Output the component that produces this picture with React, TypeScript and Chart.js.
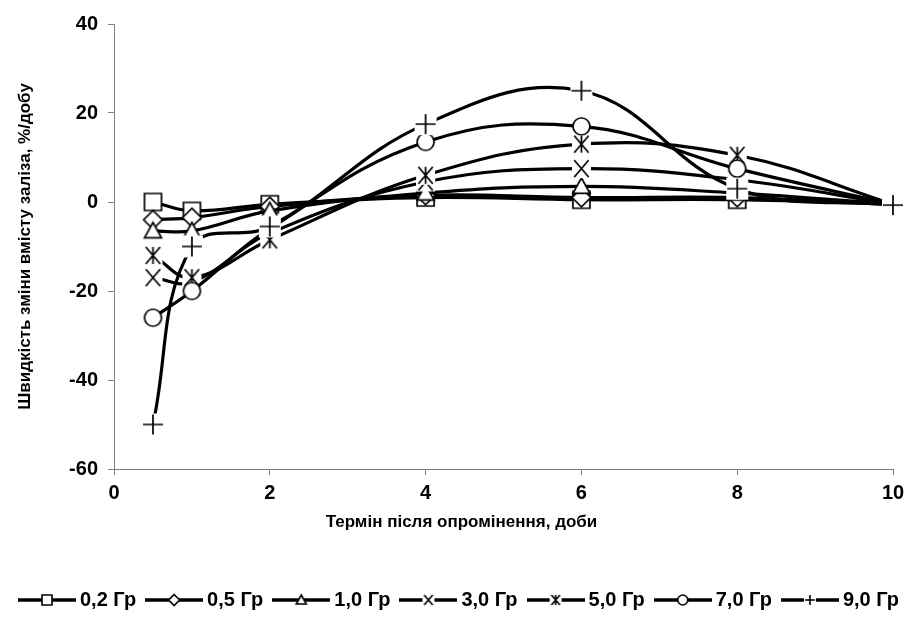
import React, { useEffect, useRef } from "react";
import { Chart, registerables } from "chart.js";

Chart.register(...registerables);

// ---- data ----
const DAYS = [0.5, 1, 2, 4, 6, 8, 10];
const SERIES_LABELS = ["0,2 Гр", "0,5 Гр", "1,0 Гр", "3,0 Гр", "5,0 Гр", "7,0 Гр", "9,0 Гр"];
const DOSE_0_2 = [0, -2, -0.5, 1, 0.5, 0.5, -0.5];
const DOSE_0_5 = [-4, -3.5, -1, 1.5, 1, 1, -0.5];
const DOSE_1_0 = [-6.5, -6.5, -2, 2, 3.5, 2, -0.5];
const DOSE_3_0 = [-17, -18, -7, 4.5, 7.5, 5, -0.5];
const DOSE_5_0 = [-12, -17, -8.5, 6, 13, 10.5, -0.5];
const DOSE_7_0 = [-26, -20, -6, 13.5, 17, 7.5, -0.5];
const DOSE_9_0 = [-50, -10, -5.5, 17.5, 25, 3, -0.7];
const SERIES_VALUES = [DOSE_0_2, DOSE_0_5, DOSE_1_0, DOSE_3_0, DOSE_5_0, DOSE_7_0, DOSE_9_0];
const MARKERS = ["square", "diamond", "triangle", "x", "star", "circle", "plus"];
const X_MIN = 0;
const X_MAX = 10;
const X_STEP = 2;
const Y_MIN = -60;
const Y_MAX = 40;
const Y_STEP = 20;
const X_TITLE = "Термін після опромінення, доби";
const Y_TITLE = "Швидкість зміни вмісту заліза, %/добу";

const FONT_FAMILY = '"Liberation Sans", Arial, sans-serif';

function drawShape(ctx: CanvasRenderingContext2D, kind: string, cx: number, cy: number, h: number) {
  ctx.fillStyle = "#fff";
  ctx.strokeStyle = "#000";
  ctx.lineCap = "butt";
  ctx.beginPath();
  switch (kind) {
    case "square":
      ctx.rect(cx - h, cy - h, 2 * h, 2 * h);
      ctx.fill();
      ctx.stroke();
      break;
    case "diamond":
      ctx.moveTo(cx, cy - h * 1.1);
      ctx.lineTo(cx + h * 1.1, cy);
      ctx.lineTo(cx, cy + h * 1.1);
      ctx.lineTo(cx - h * 1.1, cy);
      ctx.closePath();
      ctx.fill();
      ctx.stroke();
      break;
    case "triangle":
      ctx.moveTo(cx, cy - h);
      ctx.lineTo(cx + h, cy + h * 0.8);
      ctx.lineTo(cx - h, cy + h * 0.8);
      ctx.closePath();
      ctx.fill();
      ctx.stroke();
      break;
    case "circle":
      ctx.arc(cx, cy, h, 0, Math.PI * 2);
      ctx.fill();
      ctx.stroke();
      break;
    case "x":
      ctx.fillRect(cx - h - 1, cy - h - 1, 2 * h + 2, 2 * h + 2);
      ctx.moveTo(cx - h * 0.85, cy - h);
      ctx.lineTo(cx + h * 0.85, cy + h);
      ctx.moveTo(cx + h * 0.85, cy - h);
      ctx.lineTo(cx - h * 0.85, cy + h);
      ctx.stroke();
      break;
    case "star":
      ctx.fillRect(cx - h - 1, cy - h - 1, 2 * h + 2, 2 * h + 2);
      ctx.moveTo(cx - h * 0.85, cy - h);
      ctx.lineTo(cx + h * 0.85, cy + h);
      ctx.moveTo(cx + h * 0.85, cy - h);
      ctx.lineTo(cx - h * 0.85, cy + h);
      ctx.moveTo(cx, cy - h);
      ctx.lineTo(cx, cy + h);
      ctx.stroke();
      break;
    case "plus":
      ctx.fillRect(cx - h - 1, cy - h - 1, 2 * h + 2, 2 * h + 2);
      ctx.moveTo(cx - h, cy);
      ctx.lineTo(cx + h, cy);
      ctx.moveTo(cx, cy - h);
      ctx.lineTo(cx, cy + h);
      ctx.stroke();
      break;
  }
}

function makeMarker(kind: string, size: number, lw: number): HTMLCanvasElement {
  const dim = Math.ceil(size + 6);
  const c = document.createElement("canvas");
  c.width = dim;
  c.height = dim;
  const ctx = c.getContext("2d")!;
  ctx.lineWidth = lw;
  drawShape(ctx, kind, dim / 2, dim / 2, size / 2);
  return c;
}

function makeLegendSymbol(kind: string): HTMLCanvasElement {
  const w = 58;
  const hgt = 16;
  const c = document.createElement("canvas");
  c.width = w;
  c.height = hgt;
  const ctx = c.getContext("2d")!;
  ctx.strokeStyle = "#000";
  ctx.lineWidth = 3.5;
  ctx.beginPath();
  ctx.moveTo(0, hgt / 2);
  ctx.lineTo(w, hgt / 2);
  ctx.stroke();
  ctx.lineWidth = 1.6;
  drawShape(ctx, kind, w / 2, hgt / 2, 5);
  return c;
}

const xTitlePlugin = {
  id: "xTitleCentered",
  afterDraw(chart: any) {
    const ctx = chart.ctx as CanvasRenderingContext2D;
    ctx.save();
    ctx.font = `bold 17px ${FONT_FAMILY}`;
    ctx.fillStyle = "#000";
    ctx.textAlign = "center";
    ctx.textBaseline = "middle";
    ctx.fillText(X_TITLE, chart.width / 2, chart.chartArea.bottom + 53);
    ctx.restore();
  },
};

export default function App() {
  const ref = useRef<HTMLCanvasElement | null>(null);

  useEffect(() => {
    if (!ref.current) return;
    const pointImgs = MARKERS.map((m) => makeMarker(m, m === "plus" ? 20 : 17, 1.7));
    const legendImgs = MARKERS.map((m) => makeLegendSymbol(m));
    const n = SERIES_LABELS.length;

    const chart = new Chart(ref.current, {
      type: "line",
      data: {
        datasets: SERIES_LABELS.map((label, i) => ({
          label,
          data: DAYS.map((d, j) => ({ x: d, y: SERIES_VALUES[i][j] })),
          borderColor: "#000",
          backgroundColor: "#fff",
          borderWidth: 3.2,
          tension: 0.4,
          pointStyle: pointImgs[i] as any,
          pointRadius: 9,
          clip: false as any,
          order: n - i,
        })),
      },
      plugins: [xTitlePlugin],
      options: {
        animation: false,
        responsive: false,
        maintainAspectRatio: false,
        events: [],
        layout: { padding: { top: 24, right: 0, left: 0, bottom: 0 } },
        plugins: {
          tooltip: { enabled: false },
          legend: {
            position: "bottom",
            labels: {
              usePointStyle: true,
              pointStyleWidth: 46,
              padding: 15,
              color: "#000",
              font: { family: FONT_FAMILY, size: 20, weight: "bold" },
              generateLabels: (ch: any) =>
                ch.data.datasets.map((ds: any, i: number) => ({
                  text: ds.label,
                  pointStyle: legendImgs[i],
                  fillStyle: "#fff",
                  strokeStyle: "#000",
                  lineWidth: 0,
                  hidden: false,
                  datasetIndex: i,
                  fontColor: "#000",
                })),
            },
          },
        },
        scales: {
          x: {
            type: "linear",
            min: X_MIN,
            max: X_MAX,
            ticks: {
              stepSize: X_STEP,
              color: "#000",
              padding: 6,
              font: { family: FONT_FAMILY, size: 20, weight: "bold" },
            },
            grid: { drawOnChartArea: false, drawTicks: true, tickLength: 6, color: "#808080" },
            border: { color: "#808080", width: 1 },
            afterFit: (s: any) => {
              s.height = 106;
            },
          },
          y: {
            type: "linear",
            position: "left",
            min: Y_MIN,
            max: Y_MAX,
            ticks: {
              stepSize: Y_STEP,
              color: "#000",
              padding: 10,
              font: { family: FONT_FAMILY, size: 20, weight: "bold" },
            },
            grid: { drawOnChartArea: false, drawTicks: true, tickLength: 6, color: "#808080" },
            border: { color: "#808080", width: 1 },
            title: {
              display: true,
              text: Y_TITLE,
              color: "#000",
              font: { family: FONT_FAMILY, size: 17, weight: "bold" },
              padding: { top: 15, bottom: 0 },
            },
            afterFit: (s: any) => {
              s.width = 114;
            },
          },
          ySpacer: {
            type: "linear",
            position: "right",
            min: 0,
            max: 1,
            ticks: { display: false },
            grid: { display: false, drawTicks: false },
            border: { display: false },
            afterFit: (s: any) => {
              s.width = 30;
            },
          },
        },
      } as any,
    });
    return () => chart.destroy();
  }, []);

  return (
    <div style={{ position: "fixed", left: 0, top: 0, width: 923, height: 620, background: "#fff" }}>
      <canvas ref={ref} width={923} height={620} style={{ width: 923, height: 620 }} />
    </div>
  );
}
